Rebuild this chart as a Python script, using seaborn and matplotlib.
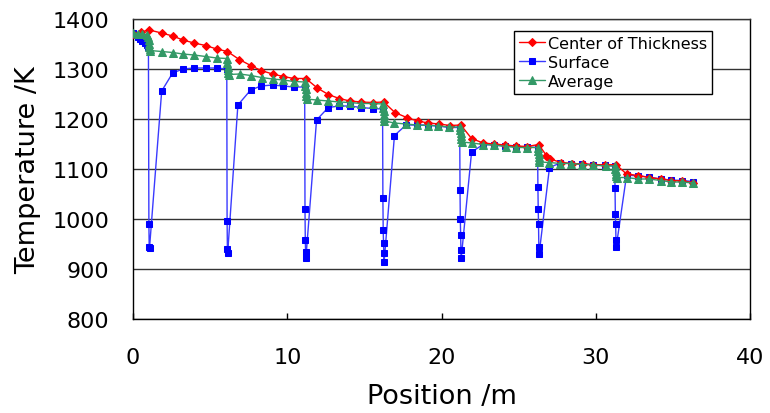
import matplotlib
matplotlib.use("Agg")
import matplotlib.pyplot as plt
import pandas as pd
import seaborn as sns

# ---------------- data ----------------
center_x = [0.0, 0.5, 1.05, 1.86, 2.57, 3.24, 3.95, 4.71, 5.42, 6.12,
            6.89, 7.63, 8.3, 9.05, 9.74, 10.43, 11.2,
            11.95, 12.66, 13.37, 14.06, 14.78, 15.53, 16.25,
            16.98, 17.74, 18.45, 19.15, 19.85, 20.55, 21.25,
            21.95, 22.7, 23.4, 24.1, 24.85, 25.55, 26.3,
            26.8, 27.05, 27.75, 28.45, 29.15, 29.85, 30.6, 31.3,
            32.0, 32.75, 33.46, 34.2, 34.87, 35.58, 36.31]
center_y = [1371, 1374, 1378, 1372, 1366, 1358, 1352, 1347, 1340, 1335,
            1319, 1307, 1297, 1290, 1285, 1281, 1281,
            1262, 1249, 1241, 1236, 1234, 1233, 1234,
            1213, 1203, 1196, 1192, 1190, 1187, 1188,
            1161, 1152, 1150, 1148, 1146, 1145, 1149,
            1127, 1120, 1113, 1111, 1110, 1109, 1108, 1109,
            1090, 1087, 1083, 1080, 1077, 1076, 1073]

surface_x = [0.0, 0.15, 0.3, 0.45, 0.6, 0.75, 0.9, 1.0, 1.03, 1.05, 1.07,
             1.86, 2.57, 3.24, 3.95, 4.71, 5.42, 6.08, 6.1, 6.12, 6.14,
             6.8, 7.63, 8.3, 9.05, 9.74, 10.43, 11.13, 11.15, 11.17, 11.19, 11.21,
             11.9, 12.66, 13.37, 14.06, 14.78, 15.53, 16.18, 16.2, 16.22, 16.24, 16.26, 16.28,
             16.95, 17.7, 18.4, 19.1, 19.8, 20.5, 21.18, 21.2, 21.22, 21.24, 21.26, 21.28,
             21.95, 22.7, 23.4, 24.1, 24.85, 25.55, 26.23, 26.25, 26.27, 26.29, 26.31, 26.33,
             27.0, 27.7, 28.4, 29.1, 29.8, 30.6, 31.23, 31.25, 31.27, 31.29, 31.31, 31.33,
             32.0, 32.75, 33.46, 34.2, 34.9, 35.6, 36.3]
surface_y = [1373, 1369, 1365, 1361, 1357, 1353, 1349, 1344, 990, 945, 942,
             1256, 1292, 1300, 1302, 1302, 1302, 1300, 997, 940, 933,
             1228, 1258, 1266, 1268, 1266, 1264, 1264, 1021, 958, 934, 922,
             1198, 1223, 1226, 1226, 1223, 1221, 1220, 1043, 979, 953, 932, 914,
             1167, 1188, 1188, 1188, 1186, 1183, 1183, 1059, 1000, 969, 938, 922,
             1134, 1149, 1148, 1146, 1145, 1144, 1143, 1065, 1020, 990, 945, 930,
             1103, 1112, 1111, 1110, 1109, 1108, 1106, 1062, 1010, 990, 958, 945,
             1088, 1086, 1084, 1080, 1078, 1077, 1075]

average_x = [0.0, 0.3, 0.6, 0.9, 1.0, 1.02, 1.04, 1.06, 1.08, 1.1,
             1.86, 2.57, 3.24, 3.95, 4.71, 5.42, 6.1, 6.12, 6.14, 6.16, 6.18, 6.2,
             6.93, 7.63, 8.34, 9.05, 9.74, 10.43, 11.15, 11.17, 11.19, 11.21, 11.23, 11.25,
             11.9, 12.66, 13.37, 14.06, 14.78, 15.53, 16.2, 16.22, 16.24, 16.26, 16.28, 16.3,
             16.95, 17.7, 18.4, 19.1, 19.8, 20.5, 21.2, 21.22, 21.24, 21.26, 21.28, 21.3,
             22.0, 22.7, 23.4, 24.2, 24.85, 25.55, 26.25, 26.27, 26.29, 26.31, 26.33, 26.35,
             27.0, 27.7, 28.4, 29.1, 29.8, 30.65, 31.25, 31.27, 31.29, 31.31, 31.33, 31.35,
             32.0, 32.75, 33.46, 34.2, 34.9, 35.6, 36.3]
average_y = [1372, 1371, 1370, 1369, 1365, 1358, 1351, 1345, 1340, 1337,
             1335, 1333, 1330, 1328, 1325, 1322, 1321, 1313, 1305, 1298, 1292, 1289,
             1290, 1287, 1283, 1280, 1278, 1275, 1274, 1267, 1260, 1253, 1246, 1240,
             1238, 1236, 1234, 1233, 1231, 1231, 1230, 1223, 1216, 1209, 1202, 1196,
             1192, 1190, 1188, 1187, 1186, 1184, 1184, 1178, 1172, 1166, 1160, 1154,
             1152, 1149, 1148, 1145, 1143, 1143, 1143, 1137, 1131, 1125, 1119, 1114,
             1113, 1111, 1111, 1109, 1108, 1106, 1106, 1101, 1096, 1091, 1087, 1083,
             1083, 1080, 1080, 1077, 1074, 1074, 1072]

series_names = ["Center of Thickness", "Surface", "Average"]
x_ticks = [0, 10, 20, 30, 40]
y_ticks = [800, 900, 1000, 1100, 1200, 1300, 1400]

# ---------------- drawing ----------------
sns.set_theme(style="white")
plt.rcParams['font.family'] = ['DejaVu Sans']
plt.rcParams['text.color'] = '#000000'
plt.rcParams['axes.labelcolor'] = '#000000'
plt.rcParams['xtick.color'] = '#000000'
plt.rcParams['ytick.color'] = '#000000'

fig = plt.figure(figsize=(7.7, 4.14), dpi=100)
ax = fig.add_axes([133 / 770, 1 - 320 / 414, 617 / 770, 300 / 414])

df_c = pd.DataFrame({"x": center_x, "y": center_y})
df_s = pd.DataFrame({"x": surface_x, "y": surface_y})
df_a = pd.DataFrame({"x": average_x, "y": average_y})

sns.lineplot(data=df_s, x="x", y="y", sort=False, estimator=None, ax=ax,
             color="#3a3aff", lw=1.0, marker="s", markersize=4.5,
             markerfacecolor="#0000ff", markeredgecolor="#0000ff",
             label=series_names[1], zorder=3)
sns.lineplot(data=df_c, x="x", y="y", sort=False, estimator=None, ax=ax,
             color="#ff0000", lw=1.0, marker="D", markersize=4.5,
             markerfacecolor="#ff0000", markeredgecolor="#ff0000",
             label=series_names[0], zorder=4)
sns.lineplot(data=df_a, x="x", y="y", sort=False, estimator=None, ax=ax,
             color="#339966", lw=1.0, marker="^", markersize=6,
             markerfacecolor="#339966", markeredgecolor="#339966",
             label=series_names[2], zorder=5)

ax.set_xlim(0, 40)
ax.set_ylim(800, 1400)
ax.set_xticks(x_ticks)
ax.set_yticks(y_ticks)
ax.set_xticklabels([str(t) for t in x_ticks])
ax.set_yticklabels([str(t) for t in y_ticks])
ax.grid(axis="y", color="#333333", lw=1.0)
ax.grid(axis="x", visible=False)
ax.set_axisbelow(True)

for side in ["left", "bottom", "right", "top"]:
    ax.spines[side].set_color("#000000")
    ax.spines[side].set_linewidth(1.0)
ax.spines["top"].set_color("#333333")

ax.tick_params(axis="x", direction="in", length=4, width=1, color="#000000",
               labelsize=16, labelcolor="#000000", pad=20, bottom=True)
ax.tick_params(axis="y", length=0, labelsize=16, labelcolor="#000000", pad=17, left=True)

ax.set_xlabel("Position /m", fontsize=19.5, labelpad=12, color="#000000")
ax.set_ylabel("Temperature /K", fontsize=19.5, labelpad=8, color="#000000")

handles, labels = ax.get_legend_handles_labels()
order = [labels.index(n) for n in series_names]
leg = ax.legend([handles[i] for i in order], [labels[i] for i in order],
                loc="upper right", bbox_to_anchor=(0.938, 0.96),
                borderaxespad=0, frameon=True, fancybox=False, framealpha=1,
                edgecolor="#000000", fontsize=11.5, handlelength=1.6,
                handletextpad=0.2, labelspacing=0.25, borderpad=0.3)
leg.get_frame().set_linewidth(1.0)
leg.set_zorder(10)
for t in leg.get_texts():
    t.set_color("#000000")

fig.savefig("out.png", dpi=100)
